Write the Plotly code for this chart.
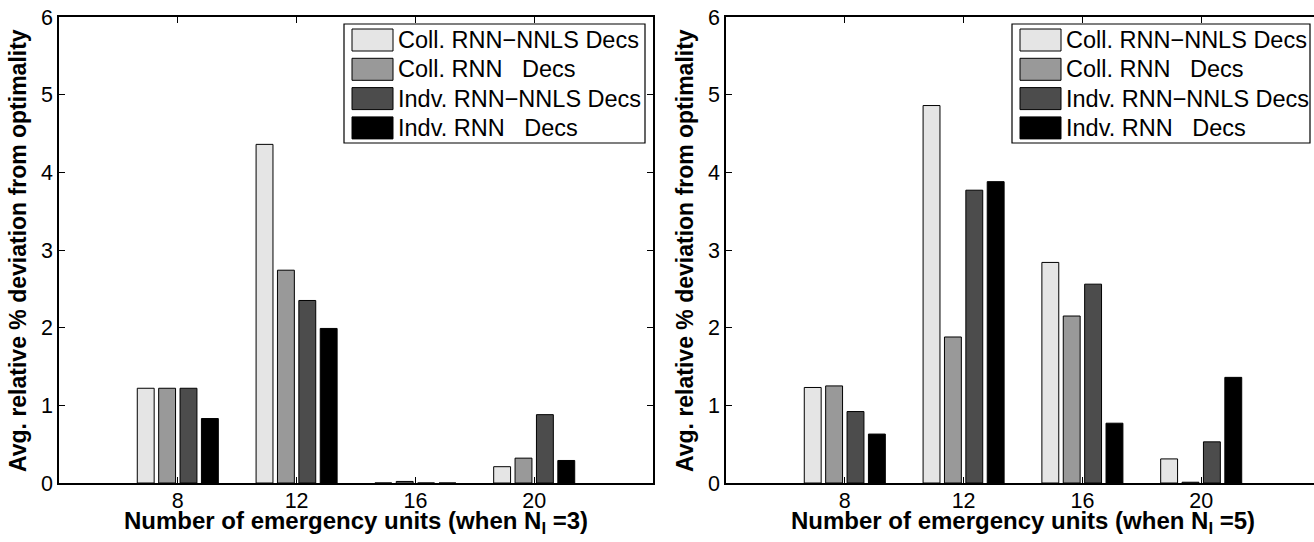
import plotly.graph_objects as go

units = [8, 12, 16, 20]
series_names = ["Coll. RNN\u2212NNLS Decs", "Coll. RNN   Decs", "Indv. RNN\u2212NNLS Decs", "Indv. RNN   Decs"]
colors = ["#e5e5e5", "#999999", "#4c4c4c", "#000000"]

# N_I = 3
left_coll_nnls = [1.22, 4.36, 0.0, 0.21]
left_coll_rnn = [1.22, 2.74, 0.02, 0.32]
left_indv_nnls = [1.22, 2.35, 0.0, 0.88]
left_indv_rnn = [0.83, 1.99, 0.0, 0.29]

# N_I = 5
right_coll_nnls = [1.23, 4.86, 2.84, 0.31]
right_coll_rnn = [1.25, 1.88, 2.15, 0.01]
right_indv_nnls = [0.92, 3.77, 2.56, 0.53]
right_indv_rnn = [0.63, 3.88, 0.77, 1.36]

left_series = [left_coll_nnls, left_coll_rnn, left_indv_nnls, left_indv_rnn]
right_series = [right_coll_nnls, right_coll_rnn, right_indv_nnls, right_indv_rnn]

W, H = 1314, 542
FONT = "Liberation Sans, Arial, Helvetica, sans-serif"

fig = go.Figure()

for i, (name, col) in enumerate(zip(series_names, colors)):
    fig.add_trace(go.Bar(x=units, y=left_series[i], name=name,
                         marker=dict(color=col, line=dict(color="black", width=1)),
                         xaxis="x", yaxis="y", showlegend=False))
    fig.add_trace(go.Bar(x=units, y=right_series[i], name=name,
                         marker=dict(color=col, line=dict(color="black", width=1)),
                         xaxis="x2", yaxis="y2", showlegend=False))

# axes geometry in pixels
L1, R1 = 59, 653
L2 = 726
TOP, BOT = 17, 483
unit_px = (R1 - L1) / 20.0
x2_max = 4 + (W - L2) / unit_px

tickfont = dict(family=FONT, size=21.5, color="black")
common_x = dict(tickvals=units, ticks="inside", ticklen=6, tickcolor="black", showline=True, linecolor="black",
                linewidth=1.5, showgrid=False, zeroline=False, tickfont=tickfont, automargin=False,
                ticklabeloverflow="allow", ticklabelstandoff=-3)
common_y = dict(range=[0, 6], tickvals=[0, 1, 2, 3, 4, 5, 6], ticks="inside", ticklen=6, tickcolor="black",
                showline=True, linecolor="black", linewidth=1.5, showgrid=False, zeroline=False,
                tickfont=tickfont, automargin=False, ticklabeloverflow="allow")


def px2x(p):
    return p / W


def px2y(p):
    return (BOT - p) / (BOT - TOP)


fig.update_layout(
    template="none",
    width=W, height=H,
    margin=dict(l=0, r=0, t=TOP, b=H - BOT, autoexpand=False),
    plot_bgcolor="white", paper_bgcolor="white",
    barmode="group", bargap=0.28, bargroupgap=0.21,
    xaxis=dict(domain=[px2x(L1), px2x(R1)], range=[4, 24], mirror="ticks", anchor="y", **common_x),
    yaxis=dict(domain=[0, 1], anchor="x", mirror="ticks", **common_y),
    xaxis2=dict(domain=[px2x(L2), 1.0], range=[4, x2_max], mirror="ticks", anchor="y2", **common_x),
    yaxis2=dict(domain=[0, 1], anchor="x2", mirror=False, **common_y),
    font=dict(family=FONT, color="black"),
)

shapes = []
annotations = []

xlab_font = dict(family=FONT, size=24, color="black")
ylab_font = dict(family=FONT, size=23, color="black")
for (cx, lab) in [((L1 + R1) / 2, "Number of emergency units (when N<sub>I</sub> =3)"),
                  ((L2 + L2 + (R1 - L1)) / 2, "Number of emergency units (when N<sub>I</sub> =5)")]:
    annotations.append(dict(x=px2x(cx), y=px2y(522), xref="paper", yref="paper", text="<b>" + lab + "</b>",
                            showarrow=False, xanchor="center", yanchor="middle", font=xlab_font))
for cx in [18, 685]:
    annotations.append(dict(x=px2x(cx), y=px2y((TOP + BOT) / 2 + 1), xref="paper", yref="paper",
                            text="<b>Avg. relative % deviation from optimality</b>", textangle=-90,
                            showarrow=False, xanchor="center", yanchor="middle", font=ylab_font))

# manual legends (MATLAB style)
leg_font = dict(family=FONT, size=23.5, color="black")
for box_left, box_right in [(344, 645), (1012, 1310)]:
    top, bottom = 24, 143
    shapes.append(dict(type="rect", xref="paper", yref="paper", x0=px2x(box_left), x1=px2x(box_right),
                       y0=px2y(bottom), y1=px2y(top), line=dict(color="black", width=1.2),
                       fillcolor="white", layer="above"))
    for k, (name, col) in enumerate(zip(series_names, colors)):
        cy = 40 + k * 29.3
        shapes.append(dict(type="rect", xref="paper", yref="paper", x0=px2x(box_left + 8), x1=px2x(box_left + 49),
                           y0=px2y(cy + 11), y1=px2y(cy - 11), line=dict(color="black", width=1),
                           fillcolor=col, layer="above"))
        annotations.append(dict(x=px2x(box_left + 52), y=px2y(cy), xref="paper", yref="paper", text=name,
                                showarrow=False, xanchor="left", yanchor="middle", font=leg_font))

fig.update_layout(shapes=shapes, annotations=annotations)
fig.write_html("out.html", config={"displayModeBar": False},
               post_script="document.body.style.margin='0px';document.documentElement.style.overflow='hidden';")
